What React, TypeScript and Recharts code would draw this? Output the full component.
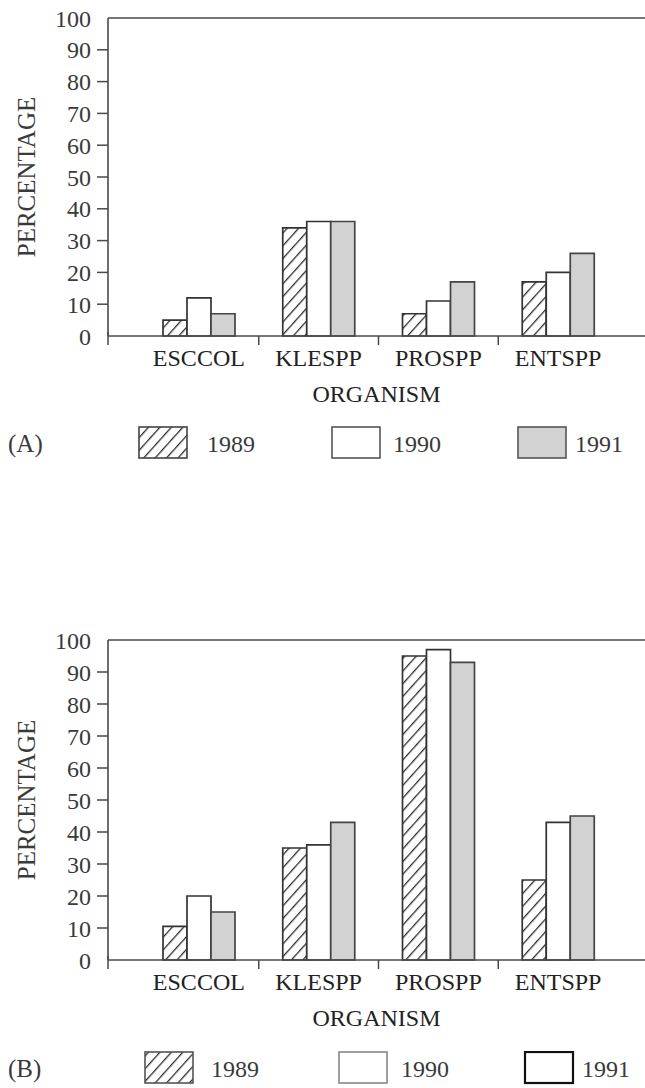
import React from "react";
import { Bar, BarChart, ReferenceLine, XAxis, YAxis } from "recharts";

const organisms = ["ESCCOL", "KLESPP", "PROSPP", "ENTSPP"];
const years = ["1989", "1990", "1991"];
const yTicks = [0, 10, 20, 30, 40, 50, 60, 70, 80, 90, 100];

// panel (A)
const a1989 = [5, 34, 7, 17];
const a1990 = [12, 36, 11, 20];
const a1991 = [7, 36, 17, 26];

// panel (B)
const b1989 = [10.5, 35, 95, 25];
const b1990 = [20, 36, 97, 43];
const b1991 = [15, 43, 93, 45];

const FONT = "'Liberation Serif', 'Times New Roman', serif";
const INK = "#3a3a3a";
const LINE = "#4a4a4a";
const GRAY = "#d2d2d2";
const BAND = 119.75;

const toRows = (v89: number[], v90: number[], v91: number[]) =>
  organisms.map((name, i) => ({
    name,
    [years[0]]: v89[i],
    [years[1]]: v90[i],
    [years[2]]: v91[i],
  }));

const Hatch = ({ id }: { id: string }) => (
  <defs>
    <pattern
      id={id}
      patternUnits="userSpaceOnUse"
      width={8.5}
      height={8.5}
      patternTransform="rotate(42)"
    >
      <rect width={8.5} height={8.5} fill="#fff" />
      <line x1={0} y1={0} x2={0} y2={8.5} stroke="#2e2e2e" strokeWidth={2.6} />
    </pattern>
  </defs>
);

const YTick = (props: any) => {
  const { x, y, payload } = props;
  const v = payload.value;
  return (
    <g>
      {v !== 0 && v !== 100 && (
        <line x1={x - 11} x2={x} y1={y} y2={y} stroke={LINE} strokeWidth={1.5} />
      )}
      {v === 0 && (
        <line x1={x} x2={x} y1={y - 4} y2={y + 9} stroke={LINE} strokeWidth={1.5} />
      )}
      <text
        x={x - 17}
        y={y}
        dy="0.36em"
        textAnchor="end"
        fontFamily={FONT}
        fontSize={24}
        fill={INK}
      >
        {v}
      </text>
    </g>
  );
};

const XTick = (props: any) => {
  const { x, y, payload, index } = props;
  return (
    <g>
      {index > 0 && (
        <line
          x1={x - BAND / 2}
          x2={x - BAND / 2}
          y1={y}
          y2={y + 9}
          stroke={LINE}
          strokeWidth={1.5}
        />
      )}
      <text
        x={x}
        y={y + 30}
        textAnchor="middle"
        fontFamily={FONT}
        fontSize={24}
        fill="#222"
      >
        {payload.value}
      </text>
    </g>
  );
};

const YTitle = (props: any) => {
  const vb = props.viewBox;
  const cx = vb.x + 26;
  const cy = vb.y + vb.height / 2;
  return (
    <text
      x={cx}
      y={cy}
      transform={`rotate(-90 ${cx} ${cy})`}
      textAnchor="middle"
      dominantBaseline="central"
      fontFamily={FONT}
      fontSize={25}
      fill={INK}
    >
      PERCENTAGE
    </text>
  );
};

const XTitle = (props: any) => {
  const vb = props.viewBox;
  return (
    <text
      x={vb.x + vb.width / 2}
      y={vb.y + 66}
      textAnchor="middle"
      fontFamily={FONT}
      fontSize={24}
      fill="#222"
    >
      ORGANISM
    </text>
  );
};

type PanelProps = {
  rows: ReturnType<typeof toRows>;
  top: number;
  plotHeight: number;
  hatchId: string;
};

const Panel = ({ rows, top, plotHeight, hatchId }: PanelProps) => (
  <div style={{ position: "absolute", left: 0, top }}>
    <BarChart
      width={645}
      height={18 + plotHeight + 84}
      data={rows}
      margin={{ top: 18, right: 0, left: 0, bottom: 14 }}
      barCategoryGap={24}
      barGap={0}
    >
      <Hatch id={hatchId} />
      <XAxis
        dataKey="name"
        padding={{ left: 31, right: 27 }}
        height={70}
        tickLine={false}
        tickSize={0}
        tickMargin={0}
        axisLine={{ stroke: LINE, strokeWidth: 1.6 }}
        tick={<XTick />}
        interval={0}
        label={XTitle}
      />
      <YAxis
        width={108}
        domain={[0, 100]}
        ticks={yTicks}
        interval={0}
        tickLine={false}
        tickSize={0}
        tickMargin={0}
        axisLine={{ stroke: LINE, strokeWidth: 1.6 }}
        tick={<YTick />}
        label={YTitle}
      />
      <ReferenceLine y={100} stroke={LINE} strokeWidth={1.6} />
      <Bar
        dataKey={years[0]}
        fill={`url(#${hatchId})`}
        stroke="#333"
        strokeWidth={1.7}
        isAnimationActive={false}
      />
      <Bar
        dataKey={years[1]}
        fill="#fff"
        stroke="#333"
        strokeWidth={1.7}
        isAnimationActive={false}
      />
      <Bar
        dataKey={years[2]}
        fill={GRAY}
        stroke="#444"
        strokeWidth={1.7}
        isAnimationActive={false}
      />
    </BarChart>
  </div>
);

type Swatch = { fill: string; stroke: string; strokeWidth: number };

const LegendRow = ({
  tag,
  top,
  swatchX,
  textX,
  swatches,
  hatchId,
}: {
  tag: string;
  top: number;
  swatchX: number[];
  textX: number[];
  swatches: Swatch[];
  hatchId: string;
}) => (
  <div style={{ position: "absolute", left: 0, top, width: 645, height: 34 }}>
    <svg width={645} height={34} style={{ display: "block" }}>
      <Hatch id={hatchId} />
      <text x={8} y={17} dy="0.36em" fontFamily={FONT} fontSize={25} fill={INK}>
        {tag}
      </text>
      {years.map((yr, i) => (
        <g key={yr}>
          <rect
            x={swatchX[i]}
            y={1}
            width={48}
            height={31}
            fill={swatches[i].fill}
            stroke={swatches[i].stroke}
            strokeWidth={swatches[i].strokeWidth}
          />
          <text
            x={textX[i]}
            y={17}
            dy="0.36em"
            fontFamily={FONT}
            fontSize={24}
            fill={INK}
          >
            {yr}
          </text>
        </g>
      ))}
    </svg>
  </div>
);

export default function App() {
  return (
    <div
      style={{
        position: "absolute",
        left: 0,
        top: 0,
        width: 645,
        height: 1088,
        overflow: "hidden",
        background: "#fff",
      }}
    >
      <Panel rows={toRows(a1989, a1990, a1991)} top={0} plotHeight={318} hatchId="hatchA" />
      <LegendRow
        tag="(A)"
        top={426}
        swatchX={[139, 332, 518]}
        textX={[207, 393, 575]}
        hatchId="legHatchA"
        swatches={[
          { fill: "url(#legHatchA)", stroke: "#444", strokeWidth: 1.6 },
          { fill: "#fff", stroke: "#555", strokeWidth: 1.6 },
          { fill: GRAY, stroke: "#555", strokeWidth: 1.6 },
        ]}
      />
      <Panel rows={toRows(b1989, b1990, b1991)} top={622} plotHeight={320} hatchId="hatchB" />
      <LegendRow
        tag="(B)"
        top={1051}
        swatchX={[145, 339, 525]}
        textX={[211, 401, 582]}
        hatchId="legHatchB"
        swatches={[
          { fill: "url(#legHatchB)", stroke: "#555", strokeWidth: 1.6 },
          { fill: "#fff", stroke: "#888", strokeWidth: 1.6 },
          { fill: "#fff", stroke: "#111", strokeWidth: 2.2 },
        ]}
      />
    </div>
  );
}
